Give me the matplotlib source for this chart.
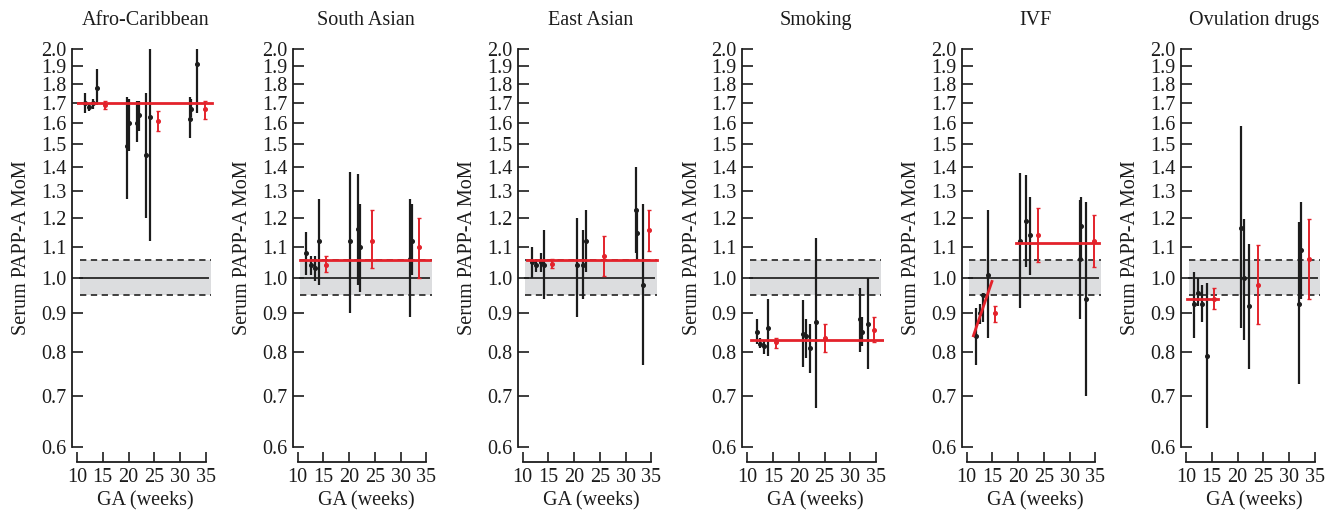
import numpy as np
import matplotlib.pyplot as plt
from matplotlib.ticker import FixedLocator, NullLocator, FormatStrFormatter

plt.rcParams['font.family'] = ['Liberation Serif', 'DejaVu Serif']

titles = ['Afro-Caribbean', 'South Asian', 'East Asian', 'Smoking', 'IVF', 'Ovulation drugs']

# rows: GA (weeks), MoM, lower limit, upper limit
afro_black = [(11.6, 1.70, 1.65, 1.75), (12.4, 1.68, 1.66, 1.70), (13.1, 1.70, 1.67, 1.72),
              (13.9, 1.78, 1.69, 1.88), (19.75, 1.49, 1.27, 1.73), (20.1, 1.60, 1.47, 1.72),
              (21.6, 1.60, 1.51, 1.71), (22.0, 1.64, 1.56, 1.71), (23.3, 1.45, 1.20, 1.75),
              (24.2, 1.63, 1.12, 2.0), (31.9, 1.62, 1.53, 1.73), (32.1, 1.67, 1.63, 1.72),
              (33.2, 1.91, 1.65, 2.0)]
afro_red = [(15.4, 1.69, 1.67, 1.71), (25.7, 1.61, 1.56, 1.66), (34.9, 1.67, 1.62, 1.71)]
afro_fit = [((10.0, 1.70), (36.3, 1.70))]

sasian_black = [(11.7, 1.08, 1.01, 1.15), (12.5, 1.04, 1.01, 1.07), (13.3, 1.03, 0.99, 1.07),
                (14.05, 1.12, 0.98, 1.27), (20.1, 1.12, 0.90, 1.38), (21.7, 1.16, 0.98, 1.37),
                (22.1, 1.10, 0.96, 1.25), (31.8, 1.06, 0.89, 1.27), (32.1, 1.12, 1.01, 1.25)]
sasian_red = [(15.5, 1.04, 1.02, 1.07), (24.5, 1.12, 1.03, 1.23), (33.6, 1.10, 1.00, 1.20)]
sasian_fit = [((10.45, 1.057), (35.6, 1.057))]

easian_black = [(11.85, 1.05, 1.00, 1.10), (12.6, 1.04, 1.02, 1.06), (13.5, 1.05, 1.02, 1.08),
                (14.2, 1.04, 0.94, 1.155), (20.6, 1.04, 0.89, 1.20), (21.7, 1.04, 0.94, 1.155),
                (22.3, 1.12, 1.02, 1.23), (31.9, 1.23, 1.08, 1.40), (32.25, 1.145, 1.06, 1.23),
                (33.3, 0.98, 0.77, 1.25)]
easian_red = [(15.65, 1.045, 1.03, 1.06), (25.75, 1.07, 1.005, 1.135), (34.6, 1.155, 1.085, 1.23)]
easian_fit = [((10.9, 1.057), (36.0, 1.057))]

smoking_black = [(11.8, 0.85, 0.82, 0.885), (12.5, 0.82, 0.81, 0.835), (13.3, 0.815, 0.795, 0.83),
                 (14.05, 0.86, 0.79, 0.94), (20.8, 0.845, 0.765, 0.935), (21.4, 0.84, 0.785, 0.885),
                 (22.1, 0.81, 0.75, 0.87), (23.4, 0.875, 0.675, 1.13), (31.9, 0.885, 0.80, 0.97),
                 (32.25, 0.85, 0.815, 0.89), (33.35, 0.87, 0.76, 1.0)]
smoking_red = [(15.55, 0.825, 0.81, 0.835), (25.0, 0.835, 0.80, 0.87), (34.65, 0.855, 0.825, 0.89)]
smoking_fit = [((10.7, 0.83), (36.3, 0.83))]

ivf_black = [(11.75, 0.84, 0.77, 0.915), (12.5, 0.90, 0.87, 0.925), (13.2, 0.95, 0.875, 0.955),
             (14.05, 1.01, 0.835, 1.23), (20.4, 1.12, 0.915, 1.375), (21.6, 1.19, 1.035, 1.365),
             (22.25, 1.14, 1.01, 1.28), (31.9, 1.06, 0.885, 1.265), (32.25, 1.17, 1.055, 1.28),
             (33.25, 0.94, 0.70, 1.26)]
ivf_red = [(15.55, 0.90, 0.875, 0.92), (23.85, 1.14, 1.05, 1.235), (34.75, 1.12, 1.035, 1.21)]
ivf_fit = [((11.3, 0.84), (14.9, 0.99)), ((19.6, 1.113), (35.7, 1.113))]

ovul_black = [(11.6, 0.925, 0.835, 1.02), (12.4, 0.955, 0.92, 1.0), (13.2, 0.925, 0.875, 0.98),
              (14.0, 0.79, 0.635, 0.985), (20.7, 1.165, 0.86, 1.585), (21.35, 1.0, 0.83, 1.195),
              (22.2, 0.92, 0.76, 1.11), (31.95, 0.925, 0.725, 1.185), (32.3, 1.09, 0.94, 1.26)]
ovul_red = [(15.5, 0.94, 0.91, 0.97), (24.0, 0.98, 0.87, 1.105), (33.8, 1.06, 0.94, 1.195)]
ovul_fit = [((10.25, 0.94), (16.3, 0.94))]

black_sets = [afro_black, sasian_black, easian_black, smoking_black, ivf_black, ovul_black]
red_sets = [afro_red, sasian_red, easian_red, smoking_red, ivf_red, ovul_red]
fit_sets = [afro_fit, sasian_fit, easian_fit, smoking_fit, ivf_fit, ovul_fit]

band_lo, band_hi = 0.95, 1.055
y_ticks = [0.6, 0.7, 0.8, 0.9, 1.0, 1.1, 1.2, 1.3, 1.4, 1.5, 1.6, 1.7, 1.8, 1.9, 2.0]
x_ticks = [10, 15, 20, 25, 30, 35]

W, H = 1336, 519
fig = plt.figure(figsize=(W / 100, H / 100), dpi=100)
lefts = [77, 297.7, 522.7, 747.3, 966.7, 1186]  # pixel position of GA=10 in each panel
red = '#e3222b'
dark = '#1c1c1c'
fs = 14.5

for i in range(6):
    ax = fig.add_axes([lefts[i] / W, 72 / H, 136.5 / W, 398 / H])
    ax.set_yscale('log')
    ax.set_ylim(0.6, 2.0)
    ax.set_xlim(10, 36.5)

    # reference band
    ax.fill_between([10.5, 36], band_lo, band_hi, color='#dcdddf', lw=0, zorder=0)
    for yv in (band_lo, band_hi):
        ax.plot([10.5, 36], [yv, yv], ls=(0, (3.5, 2.5)), color='#333333', lw=1.3, zorder=1)
    ax.plot([10.5, 35.4], [1.0, 1.0], color='#333333', lw=1.4, zorder=1)

    b = np.array(black_sets[i])
    ax.errorbar(b[:, 0], b[:, 1], yerr=[b[:, 1] - b[:, 2], b[:, 3] - b[:, 1]],
                fmt='o', ms=2.6, color=dark, elinewidth=1.6, capsize=0, zorder=3)
    r = np.array(red_sets[i])
    ax.errorbar(r[:, 0], r[:, 1], yerr=[r[:, 1] - r[:, 2], r[:, 3] - r[:, 1]],
                fmt='o', ms=2.6, color=red, elinewidth=1.4, capsize=1.5, capthick=1.0, zorder=4)
    for (x0, y0), (x1, y1) in fit_sets[i]:
        ax.plot([x0, x1], [y0, y1], color=red, lw=2.0, zorder=5)

    for s in ('top', 'right'):
        ax.spines[s].set_visible(False)
    ax.spines['left'].set_position(('outward', 3.6))
    ax.spines['left'].set_bounds(0.6, 2.0)
    ax.spines['bottom'].set_position(('outward', 11))
    ax.spines['bottom'].set_bounds(10, 35)
    for s in ('left', 'bottom'):
        ax.spines[s].set_linewidth(1.3)
        ax.spines[s].set_color(dark)

    ax.yaxis.set_major_locator(FixedLocator(y_ticks))
    ax.yaxis.set_minor_locator(NullLocator())
    ax.yaxis.set_major_formatter(FormatStrFormatter('%.1f'))
    ax.set_xticks(x_ticks)
    ax.tick_params(axis='y', direction='in', length=8, width=1.2, pad=4,
                   labelsize=fs, colors=dark)
    ax.tick_params(axis='x', direction='in', length=7, width=1.2, pad=4,
                   labelsize=fs, colors=dark)

    ax.set_title(titles[i], fontsize=fs, pad=17, color=dark)
    ax.set_xlabel('GA (weeks)', fontsize=fs, labelpad=3, color=dark)
    ax.set_ylabel('Serum PAPP-A MoM', fontsize=fs, labelpad=7, color=dark)

fig.savefig('out.png', dpi=100)
